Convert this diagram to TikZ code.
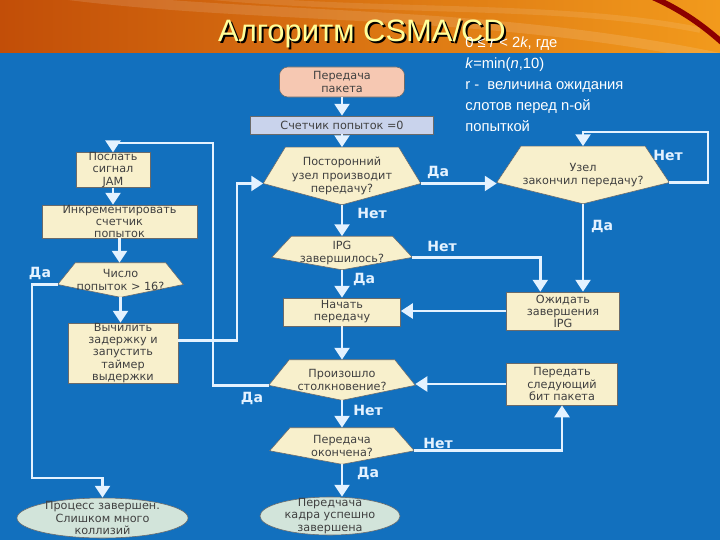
\documentclass[tikz,border=0pt]{standalone}
\usepackage{fontspec}
\setmainfont{Liberation Sans}
\newfontfamily\boxfont{DejaVu Sans}
\usetikzlibrary{arrows.meta, positioning, shapes.geometric, calc}

\definecolor{bandL}{HTML}{C24E08}
\definecolor{bandR}{HTML}{F29A1C}
\definecolor{sheet}{HTML}{1270BE}
\definecolor{boxfill}{HTML}{F8F0CC}
\definecolor{boxline}{HTML}{6A6A6A}
\definecolor{boxtext}{HTML}{404040}
\definecolor{startfill}{HTML}{F6C8B2}
\definecolor{cntfill}{HTML}{C9D3EC}
\definecolor{termfill}{HTML}{D2E4DA}
\definecolor{flowcol}{HTML}{E4F2FF}
\definecolor{titlecol}{HTML}{FFFF9A}

\pgfdeclarelayer{back}
\pgfdeclarelayer{shapes}
\pgfsetlayers{back,shapes,main}

\tikzset{
  box/.style={draw=boxline, fill=boxfill, text=boxtext, align=center, inner sep=0pt,
    font=\boxfont\fontsize{8}{8.6}\selectfont},
  decision/.style={align=center, inner sep=0pt, text=boxtext,
    font=\boxfont\fontsize{8}{9.5}\selectfont},
  term/.style={ellipse, draw=boxline, fill=termfill, inner sep=0pt},
  termtext/.style={align=center, inner sep=0pt, text=boxtext,
    font=\boxfont\fontsize{8}{8.6}\selectfont},
  flow/.style={draw=flowcol, line width=2.1pt, -{Triangle[width=10.5pt,length=8.5pt]}},
  lab/.style={text=flowcol, font=\boxfont\bfseries\fontsize{10}{10}\selectfont},
}

\begin{document}
\begin{tikzpicture}[x=0.025cm, y=-0.025cm]
\useasboundingbox (0,0) rectangle (720,540);

% slide background
\begin{pgfonlayer}{back}
\fill[sheet] (0,52) rectangle (720,540);
\shade[left color=bandL, right color=bandR] (0,0) rectangle (720,52);
\begin{scope}
\clip (0,0) rectangle (720,52);
\draw[white, opacity=0.12, line width=7pt] (60,-6) .. controls (260,20) and (480,8) .. (720,58);
\draw[white, opacity=0.10, line width=4pt] (200,-4) .. controls (380,14) and (560,2) .. (700,30);
\draw[red!55!black, line width=4pt] (650,-4) .. controls (682,10) and (704,26) .. (726,46);
\end{scope}
\end{pgfonlayer}

% title and note
\node[text=black, font=\fontsize{22}{25}\selectfont] (title-shadow) at (364,35) {Алгоритм CSMA/CD};
\node[text=titlecol, font=\fontsize{22}{25}\selectfont] (title) at (362,33) {Алгоритм CSMA/CD};
\node[anchor=north west, align=left, text=white, inner sep=0pt,
  font=\fontsize{10.5}{14.8}\selectfont] (note) at (465,37)
  {0 ≤ \textit{r} < 2\textit{k}, где\\\textit{k}=min(\textit{n},10)\\r -\ \ величина ожидания\\слотов перед n-ой\\попыткой};

% main column
\node[box, rounded corners=6pt, fill=startfill, minimum width=3.125cm, minimum height=0.75cm] (start) at (342,82) {Передача\\пакета};
\node[box, fill=cntfill, minimum width=4.575cm, minimum height=0.45cm] (zero) at (342,125) {Счетчик попыток =0};
\node[decision, minimum width=3.925cm, minimum height=1.425cm] (busy) at (342,176) {Посторонний\\узел производит\\передачу?};
\node[decision, minimum width=3.5cm, minimum height=0.825cm] (ipg) at (342,253) {IPG\\завершилось?};
\node[box, minimum width=2.925cm, minimum height=0.7cm] (go) at (342,312) {Начать\\передачу};
\node[decision, minimum width=3.65cm, minimum height=1cm] (coll) at (342,380) {Произошло\\столкновение?};
\node[decision, minimum width=3.6cm, minimum height=0.9cm] (fin) at (342,446) {Передача\\окончена?};
\node[term, minimum width=3.5cm, minimum height=0.95cm,
  label={[termtext]center:{Передчача\\кадра успешно\\завершена}}] (ok) at (330,516) {};

% right column
\node[decision, minimum width=4.3cm, minimum height=1.425cm] (done) at (583,175) {Узел\\закончил передачу?};
\node[box, minimum width=2.825cm, minimum height=0.95cm] (wait) at (563,311) {Ожидать\\завершения\\IPG};
\node[box, minimum width=2.775cm, minimum height=1.05cm] (nextbit) at (562,384) {Передать\\следующий\\бит пакета};

% left column
\node[box, minimum width=1.85cm, minimum height=0.85cm] (jam) at (113,170) {Послать\\сигнал\\JAM};
\node[box, minimum width=3.875cm, minimum height=0.825cm] (inc) at (119.5,221.5) {Инкрементировать\\счетчик\\попыток};
\node[decision, minimum width=3.125cm, minimum height=0.85cm] (many) at (120.5,280) {Число\\попыток > 16?};
\node[box, minimum width=2.75cm, minimum height=1.5cm] (delay) at (123,353) {Вычилить\\задержку и\\запустить\\таймер\\выдержки};
\node[term, minimum width=4.275cm, minimum height=1cm,
  label={[termtext]center:{Процесс завершен.\\Слишком много\\коллизий}}] (abort) at (102.5,518) {};

% decision outlines
\begin{pgfonlayer}{shapes}
\foreach \n in {busy,done,ipg,many,coll,fin} {
  \coordinate (\n-w) at ($(\n.north west)!0.63!(\n.south west)$);
  \coordinate (\n-e) at ($(\n.north east)!0.63!(\n.south east)$);
  \filldraw[fill=boxfill, draw=boxline] ($(\n.north west)!0.14!(\n.north east)$)
    -- ($(\n.north west)!0.86!(\n.north east)$) -- (\n-e) -- (\n.south) -- (\n-w) -- cycle;
}
\end{pgfonlayer}

% connectors
\coordinate (loop) at (708,132);
\coordinate (up) at (213,143);
\coordinate (ret) at (237,260);
\coordinate (down) at (32,478);
\draw[flow] (start.south) -- (zero.north);
\draw[flow] (zero.south) -- (busy.north);
\draw[flow] (busy-e) -- (busy-e -| done-w);
\draw[flow] (done-e) -| (loop) -| (done.north);
\draw[flow] (done.south) -- (done.south |- wait.north);
\draw[flow] (busy.south) -- (ipg.north);
\draw[flow] (ipg-e) -| ($(wait.north west)!0.3!(wait.north east)$);
\draw[flow] (ipg.south) -- (go.north);
\draw[flow] (wait.west) -- (wait.west -| go.east);
\draw[flow] (go.south) -- (coll.north);
\draw[flow] (nextbit.west) -- (nextbit.west -| coll-e);
\draw[flow] (coll.south) -- (fin.north);
\draw[flow] (fin-e) -| (nextbit.south);
\draw[flow] (fin.south) -- (fin.south |- ok.north);
\draw[flow] (coll-w) -| (up) -| (jam.north);
\draw[flow] (jam.south) -- (jam.south |- inc.north);
\draw[flow] (inc.south) -- (inc.south |- many.north);
\draw[flow] (many.south) -- (many.south |- delay.north);
\draw[flow] ($(delay.north east)!0.3!(delay.south east)$) -| (ret) |- (busy-w);
\draw[flow] (many-w) -| (down) -| (abort.north);

% branch labels
\node[lab] (yes1) at (438,172) {Да};
\node[lab] (no1) at (668,155) {Нет};
\node[lab] (yes2) at (602,226) {Да};
\node[lab] (no2) at (372,213) {Нет};
\node[lab] (no3) at (442,246) {Нет};
\node[lab] (yes3) at (364,279) {Да};
\node[lab] (yes4) at (40,273) {Да};
\node[lab] (yes5) at (252,398) {Да};
\node[lab] (no4) at (368,410) {Нет};
\node[lab] (no5) at (438,443) {Нет};
\node[lab] (yes6) at (368,473) {Да};
\end{tikzpicture}
\end{document}
